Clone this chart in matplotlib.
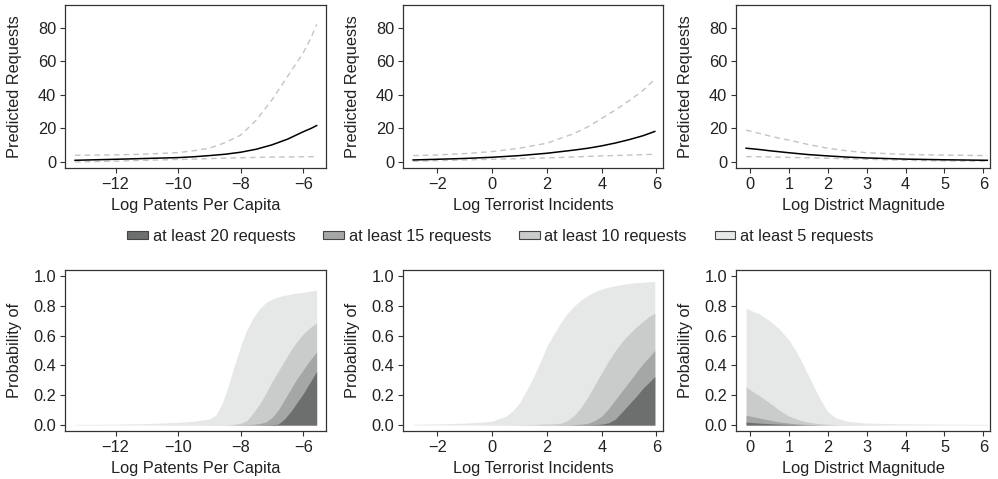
import matplotlib.pyplot as plt
from matplotlib.patches import Patch

plt.rcParams["font.family"] = ["Liberation Sans", "DejaVu Sans"]
plt.rcParams["font.size"] = 11.8

# ---- top row: predicted requests (mean + 95% band) ----
pat_x = [-13.3, -12, -11, -10, -9.5, -9, -8.5, -8, -7.5, -7, -6.5, -6, -5.75, -5.57]
pat_mean = [1.0, 1.6, 2.1, 2.6, 3.1, 3.8, 4.6, 5.8, 7.6, 10.2, 13.6, 18.0, 20.0, 21.7]
pat_hi = [4.0, 4.2, 4.7, 5.6, 6.7, 8.2, 11.5, 16, 25, 37, 51, 65, 74, 82]
pat_lo = [0.0, 0.5, 1.0, 1.5, 1.7, 2.0, 2.3, 2.5, 2.7, 2.9, 3.0, 3.1, 3.15, 3.2]

ter_x = [-2.89, -2, -1, 0, 1, 2, 3, 3.5, 4, 4.5, 5, 5.5, 5.94]
ter_mean = [1.2, 1.6, 2.1, 2.8, 3.8, 5.2, 7.1, 8.2, 9.6, 11.3, 13.3, 15.6, 18.2]
ter_hi = [3.8, 4.2, 5.0, 6.2, 8.2, 11.2, 17, 21, 26, 31, 36.5, 42.5, 49.3]
ter_lo = [0.4, 0.8, 1.2, 1.6, 2.0, 2.4, 3.0, 3.3, 3.6, 3.85, 4.1, 4.35, 4.6]

mag_x = [-0.1, 0.25, 0.5, 0.75, 1, 1.5, 2, 2.5, 3, 4, 5, 6.1]
mag_mean = [8.2, 7.4, 6.7, 6.1, 5.5, 4.4, 3.6, 2.9, 2.4, 1.7, 1.3, 1.0]
mag_hi = [19, 17, 15.5, 14.2, 13, 10.4, 8.2, 6.6, 5.5, 4.5, 4.1, 3.8]
mag_lo = [3.2, 3.1, 3.0, 2.85, 2.7, 2.45, 2.2, 1.9, 1.6, 1.0, 0.6, 0.4]

# ---- bottom row: probability of at least N requests ----
pat_px = [-13.3, -12, -11, -10, -9.5, -9.2, -9.0, -8.8, -8.6, -8.4, -8.2, -8.0,
          -7.8, -7.6, -7.4, -7.2, -7.0, -6.8, -6.6, -6.4, -6.2, -6.0, -5.8, -5.57]
pat_p5 = [0.004, 0.006, 0.01, 0.018, 0.026, 0.034, 0.04, 0.065, 0.14, 0.26, 0.40, 0.53,
          0.64, 0.72, 0.78, 0.82, 0.845, 0.86, 0.87, 0.878, 0.885, 0.89, 0.897, 0.905]
pat_p10 = [0, 0, 0, 0.001, 0.001, 0.001, 0.002, 0.002, 0.002, 0.003, 0.005, 0.012,
           0.03, 0.08, 0.14, 0.21, 0.29, 0.36, 0.43, 0.50, 0.56, 0.61, 0.65, 0.685]
pat_p15 = [0, 0, 0, 0, 0, 0, 0, 0, 0, 0, 0.001, 0.002,
           0.003, 0.005, 0.01, 0.02, 0.05, 0.10, 0.17, 0.24, 0.31, 0.37, 0.43, 0.49]
pat_p20 = [0, 0, 0, 0, 0, 0, 0, 0, 0, 0, 0, 0,
           0, 0, 0.001, 0.002, 0.003, 0.006, 0.04, 0.09, 0.15, 0.21, 0.28, 0.36]

ter_px = [-2.89, -2, -1, -0.5, 0, 0.5, 0.75, 1.0, 1.25, 1.5, 1.75, 2.0, 2.25, 2.5,
          2.75, 3.0, 3.25, 3.5, 3.75, 4.0, 4.25, 4.5, 4.75, 5.0, 5.25, 5.5, 5.75, 5.94]
ter_p5 = [0.005, 0.008, 0.013, 0.018, 0.026, 0.06, 0.095, 0.15, 0.23, 0.32, 0.42, 0.53, 0.61, 0.685,
          0.75, 0.80, 0.84, 0.87, 0.895, 0.912, 0.925, 0.935, 0.943, 0.95, 0.954, 0.958, 0.961, 0.963]
ter_p10 = [0, 0, 0, 0, 0.001, 0.001, 0.002, 0.002, 0.003, 0.004, 0.005, 0.007, 0.008, 0.012,
           0.03, 0.065, 0.12, 0.19, 0.27, 0.35, 0.43, 0.50, 0.56, 0.61, 0.655, 0.695, 0.73, 0.75]
ter_p15 = [0, 0, 0, 0, 0, 0, 0, 0, 0, 0, 0.001, 0.001, 0.001, 0.002,
           0.002, 0.003, 0.006, 0.012, 0.03, 0.06, 0.11, 0.17, 0.23, 0.29, 0.35, 0.41, 0.46, 0.50]
ter_p20 = [0, 0, 0, 0, 0, 0, 0, 0, 0, 0, 0, 0, 0, 0,
           0, 0.001, 0.001, 0.002, 0.003, 0.006, 0.015, 0.04, 0.09, 0.14, 0.19, 0.245, 0.29, 0.325]

mag_px = [-0.1, 0.1, 0.25, 0.5, 0.75, 1.0, 1.15, 1.3, 1.45, 1.6, 1.75, 1.9, 2.0, 2.2,
          2.5, 3.0, 4.0, 5.0, 6.1]
mag_p5 = [0.785, 0.76, 0.745, 0.70, 0.645, 0.57, 0.51, 0.44, 0.36, 0.28, 0.20, 0.13, 0.09, 0.05,
          0.025, 0.013, 0.008, 0.006, 0.005]
mag_p10 = [0.255, 0.22, 0.195, 0.15, 0.10, 0.06, 0.045, 0.032, 0.022, 0.015, 0.01, 0.007, 0.005, 0.003,
           0.002, 0.001, 0, 0, 0]
mag_p15 = [0.065, 0.055, 0.047, 0.033, 0.021, 0.013, 0.009, 0.006, 0.004, 0.003, 0.002, 0.001, 0.001, 0,
           0, 0, 0, 0, 0]
mag_p20 = [0.02, 0.016, 0.013, 0.009, 0.006, 0.004, 0.003, 0.002, 0.001, 0.001, 0, 0, 0, 0,
           0, 0, 0, 0, 0]

xlabels = ["Log Patents Per Capita", "Log Terrorist Incidents", "Log District Magnitude"]
xlims = [(-13.62, -5.27), (-3.26, 6.24), (-0.36, 6.17)]
xticks = [[-12, -10, -8, -6], [-2, 0, 2, 4, 6], [0, 1, 2, 3, 4, 5, 6]]
xtick_labels = [["\u221212", "\u221210", "\u22128", "\u22126"],
                ["\u22122", "0", "2", "4", "6"],
                ["0", "1", "2", "3", "4", "5", "6"]]
band_labels = ["at least 20 requests", "at least 15 requests",
               "at least 10 requests", "at least 5 requests"]
band_colors = ["#6d6e6e", "#a5a6a6", "#cacbcb", "#e6e7e7"]

top_data = [(pat_x, pat_mean, pat_hi, pat_lo),
            (ter_x, ter_mean, ter_hi, ter_lo),
            (mag_x, mag_mean, mag_hi, mag_lo)]
bot_data = [(pat_px, [pat_p20, pat_p15, pat_p10, pat_p5]),
            (ter_px, [ter_p20, ter_p15, ter_p10, ter_p5]),
            (mag_px, [mag_p20, mag_p15, mag_p10, mag_p5])]

W, H = 998, 479
fig = plt.figure(figsize=(W / 100, H / 100), dpi=100)

# axes frames in pixels: (left, width)
cols = [(65, 261), (403, 260), (736, 254)]
top_row = (5, 168)
bot_row = (270, 431)

text_col = "#222222"


def style(ax, i, w_px, h_px):
    ax.set_xlim(*xlims[i])
    ax.set_xticks(xticks[i])
    ax.set_xticklabels(xtick_labels[i])
    ax.tick_params(direction="out", length=3.3, width=0.8, colors="#333333",
                   labelcolor=text_col, labelsize=11.8, pad=3)
    for s in ax.spines.values():
        s.set_color("#333333")
        s.set_linewidth(0.9)
    ax.set_xlabel(xlabels[i], color=text_col)
    ax.xaxis.set_label_coords(0.5, -30 / h_px)
    ax.yaxis.set_label_coords(-43 / w_px, 0.5)


for i, (lpx, wpx) in enumerate(cols):
    # top panel
    t, b = top_row
    ax = fig.add_axes([lpx / W, 1 - b / H, wpx / W, (b - t) / H])
    x, m, hi, lo = top_data[i]
    ax.plot(x, hi, color="#c4c4c4", lw=1.0, ls=(0, (4, 3)))
    ax.plot(x, lo, color="#c4c4c4", lw=1.0, ls=(0, (4, 3)))
    ax.plot(x, m, color="black", lw=1.1)
    ax.set_ylim(-3.6, 93.6)
    ax.set_yticks([0, 20, 40, 60, 80])
    ax.set_ylabel("Predicted Requests", color=text_col)
    style(ax, i, wpx, b - t)

    # bottom panel
    t, b = bot_row
    ax = fig.add_axes([lpx / W, 1 - b / H, wpx / W, (b - t) / H])
    x, bands = bot_data[i]
    for vals, col in reversed(list(zip(bands, band_colors))):
        ax.fill_between(x, 0, vals, color=col, lw=0)
    ax.set_ylim(-0.04, 1.04)
    ax.set_yticks([0, 0.2, 0.4, 0.6, 0.8, 1.0])
    ax.set_yticklabels(["0.0", "0.2", "0.4", "0.6", "0.8", "1.0"])
    ax.set_ylabel("Probability of", color=text_col)
    style(ax, i, wpx, b - t)

handles = [Patch(facecolor=c, edgecolor="#444444", linewidth=0.8) for c in band_colors]
fig.legend(handles, band_labels, loc="center", bbox_to_anchor=(0.5015, 1 - 236.5 / H),
           ncol=4, frameon=False, handlelength=1.25, handleheight=0.4,
           handletextpad=0.3, columnspacing=1.7, fontsize=11.8, labelcolor=text_col)

fig.savefig("out.png", dpi=100)
